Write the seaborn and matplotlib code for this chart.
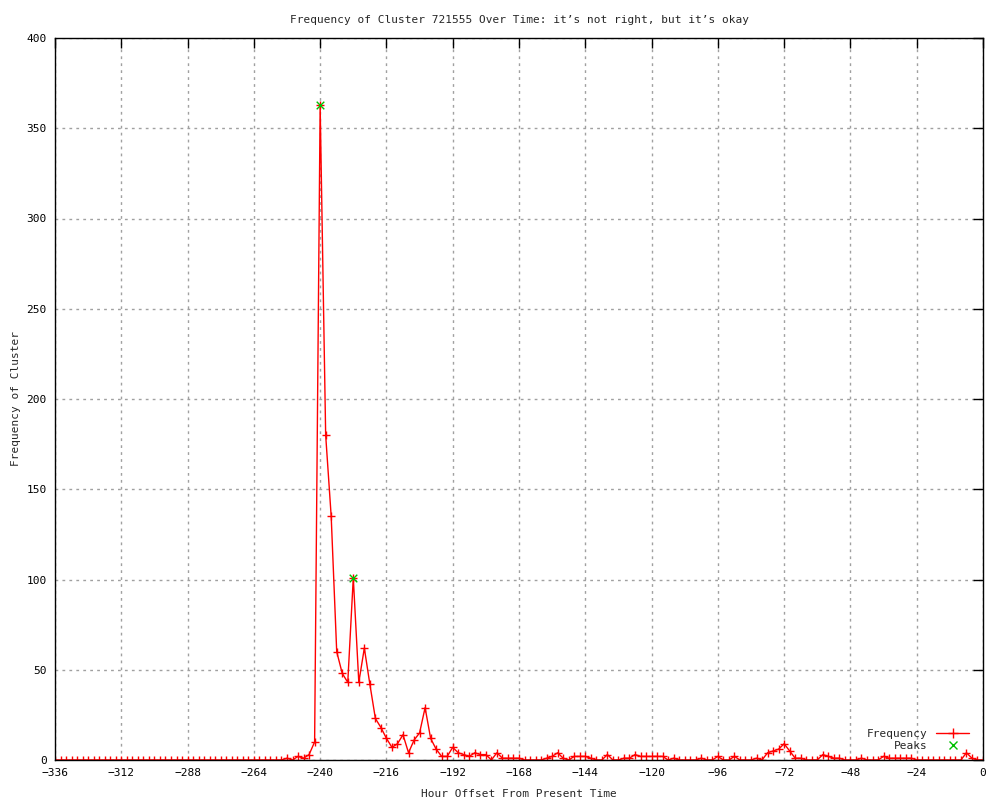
import numpy as np
import pandas as pd
import seaborn as sns
import matplotlib
matplotlib.use("Agg")
import matplotlib.pyplot as plt
from matplotlib.lines import Line2D

# hour offsets, every 2 hours from -336 to 0
hours = list(range(-336, 1, 2))

# frequency (one value per 2-hour step)
freq = [0] * 42 + [
    1, 0, 2, 1, 3, 10,                      # -252 .. -242
    363, 180, 135, 60, 48, 43,              # -240 .. -230
    101, 43, 62, 42, 23, 18,                # -228 .. -218
    12, 7, 9, 14, 4, 11,                    # -216 .. -206
    15, 29, 12, 6, 2, 2,                    # -204 .. -194
    7, 4, 3, 2, 4, 3,                       # -192 .. -182
    3, 0, 4, 1, 1, 1,                       # -180 .. -170
    1, 0, 0, 0, 0, 1,                       # -168 .. -158
    2, 4, 1, 0, 2, 2,                       # -156 .. -146
    2, 1, 0, 0, 3, 0,                       # -144 .. -134
    0, 1, 1, 3, 2, 2,                       # -132 .. -122
    2, 2, 2, 0, 1, 0,                       # -120 .. -110
    0, 0, 0, 1, 0, 0,                       # -108 .. -98
    2, 0, 0, 2, 0, 0,                       # -96 .. -86
    0, 1, 0, 4, 5, 6,                       # -84 .. -74
    9, 5, 1, 1, 0, 0,                       # -72 .. -62
    0, 3, 2, 1, 1, 0,                       # -60 .. -50
    0, 0, 1, 0, 0, 0,                       # -48 .. -38
    2, 1, 1, 1, 1, 1,                       # -36 .. -26
    0, 0, 0, 0, 0, 0,                       # -24 .. -14
    0, 0, 0, 4, 1, 0,                       # -12 .. -2
    0,                                      # 0
]

peak_hours = [-240, -228]
peak_vals = [363, 101]

df = pd.DataFrame({"hour": hours, "freq": freq})
peaks = pd.DataFrame({"hour": peak_hours, "freq": peak_vals})

sns.set_style("white")
plt.rcParams["font.family"] = ["DejaVu Sans Mono", "DejaVu Sans"]
plt.rcParams["font.size"] = 8

fig = plt.figure(figsize=(10, 8), dpi=100)
ax = fig.add_axes([0.055, 0.05, 0.928, 0.9025])

sns.lineplot(data=df, x="hour", y="freq", ax=ax, color="red", linewidth=1,
             marker="+", markersize=6, markeredgewidth=1, markeredgecolor="red")
sns.scatterplot(data=peaks, x="hour", y="freq", ax=ax, color="#00c000",
                marker="x", s=30, linewidth=1, zorder=5)

ax.set_xlim(-336, 0)
ax.set_ylim(0, 400)
ax.set_xticks(range(-336, 1, 24))
ax.set_yticks(range(0, 401, 50))
ax.xaxis.set_major_formatter(plt.FuncFormatter(lambda v, p: f"{int(v)}".replace("-", "\u2212")))

ax.grid(True, color="#a0a0a0", linestyle=(0, (2, 3)), linewidth=1)
ax.set_axisbelow(True)
for s in ax.spines.values():
    s.set_color("black")
    s.set_linewidth(1)
ax.tick_params(direction="in", length=7, width=1, top=True, right=True,
               colors="black", labelsize=8, pad=6)

ax.set_title("Frequency of Cluster 721555 Over Time: it\u2019s not right, but it\u2019s okay",
             fontsize=8, pad=11)
ax.set_xlabel("Hour Offset From Present Time", fontsize=8, labelpad=8)
ax.set_ylabel("Frequency of Cluster", fontsize=8)
ax.yaxis.set_label_coords(-0.037, 0.5)

handles = [
    Line2D([], [], color="red", linewidth=1, marker="+", markersize=7),
    Line2D([], [], color="#00c000", linestyle="none", marker="x", markersize=6),
]
ax.legend(handles, ["Frequency", "Peaks"], loc="lower right", frameon=False,
          markerfirst=False, bbox_to_anchor=(0.995, 0.0), fontsize=8,
          handlelength=3, labelspacing=0.2, borderpad=0.3)

fig.savefig("out.png", dpi=100)
